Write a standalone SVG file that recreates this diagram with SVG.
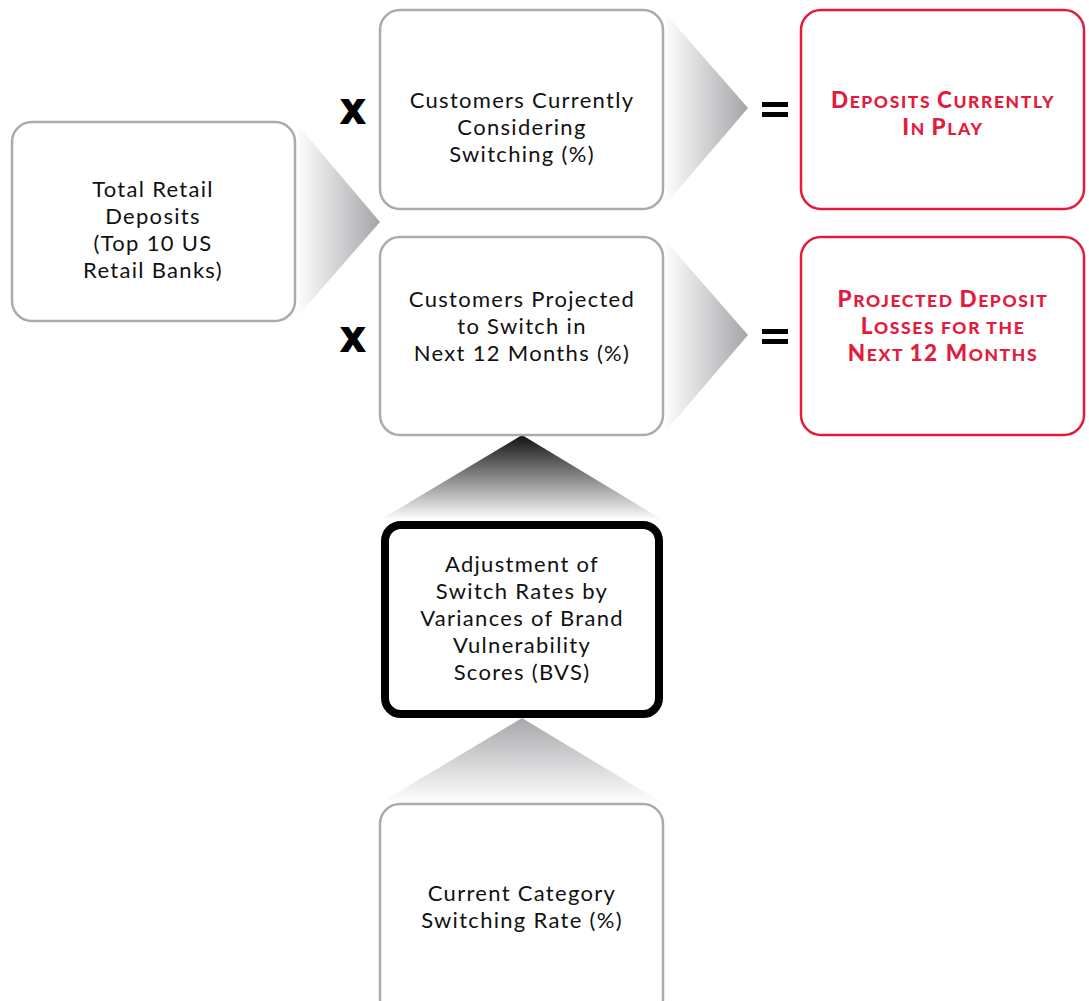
<svg xmlns="http://www.w3.org/2000/svg" width="1089" height="1001" viewBox="0 0 1089 1001">
<defs>
<linearGradient id="gh" x1="0" y1="0" x2="1" y2="0"><stop offset="0" stop-color="#ffffff"/><stop offset="1" stop-color="#a4a5a8"/></linearGradient>
<linearGradient id="gvd" x1="0" y1="0" x2="0" y2="1"><stop offset="0" stop-color="#111111"/><stop offset="1" stop-color="#ffffff"/></linearGradient>
<linearGradient id="gvl" x1="0" y1="0" x2="0" y2="1"><stop offset="0" stop-color="#a6a7aa"/><stop offset="1" stop-color="#ffffff"/></linearGradient>
<style>
.box{fill:#fff;stroke:#ababaf;stroke-width:2.5}
.red{fill:#fff;stroke:#e31b3c;stroke-width:2.5}
.bold{fill:#fff;stroke:#000;stroke-width:8}
.t{font-family:Lato,"Open Sans",sans-serif;font-size:22px;letter-spacing:1.3px;fill:#111;text-anchor:middle}
.r{font-family:Lato,"Open Sans",sans-serif;font-size:17.5px;font-weight:900;letter-spacing:1.6px;fill:#e31b3c;text-anchor:middle}
.c{font-size:22.5px}
.x{font-family:"Liberation Sans",Arial,sans-serif;font-size:42px;font-weight:900;fill:#000;stroke:#000;stroke-width:1.8;text-anchor:middle}
</style>
</defs>
<g id="connectors">
<polygon points="296,123 380,222 296,318" fill="url(#gh)"/>
<polygon points="664,12 748,108 664,206" fill="url(#gh)"/>
<polygon points="664,239 748,335 664,433" fill="url(#gh)"/>
<polygon points="522,435 663,520 380,520" fill="url(#gvd)"/>
<polygon points="522,718 663,803 380,803" fill="url(#gvl)"/>
<text class="x" x="353" y="123">x</text>
<text class="x" x="353" y="351">x</text>
<rect x="762" y="102" width="26" height="5" fill="#000"/>
<rect x="762" y="112" width="26" height="5" fill="#000"/>
<rect x="762" y="329" width="26" height="5" fill="#000"/>
<rect x="762" y="339" width="26" height="5" fill="#000"/>
</g>
<g id="total-deposits">
<rect class="box" x="12" y="122" width="283" height="199" rx="20"/>
<text class="t" x="153" y="197">Total Retail</text>
<text class="t" x="153" y="224">Deposits</text>
<text class="t" x="153" y="251">(Top 10 US</text>
<text class="t" x="153" y="278">Retail Banks)</text>
</g>
<g id="considering">
<rect class="box" x="380" y="10" width="283" height="199" rx="20"/>
<text class="t" x="522" y="108">Customers Currently</text>
<text class="t" x="522" y="135">Considering</text>
<text class="t" x="522" y="162">Switching (%)</text>
</g>
<g id="projected">
<rect class="box" x="380" y="237" width="283" height="198" rx="20"/>
<text class="t" x="522" y="307">Customers Projected</text>
<text class="t" x="522" y="334">to Switch in</text>
<text class="t" x="522" y="361">Next 12 Months (%)</text>
</g>
<g id="in-play">
<rect class="red" x="801" y="10" width="283" height="199" rx="20"/>
<text class="r" x="943" y="108"><tspan class="c">D</tspan>EPOSITS <tspan class="c">C</tspan>URRENTLY</text>
<text class="r" x="943" y="135"><tspan class="c">I</tspan>N <tspan class="c">P</tspan>LAY</text>
</g>
<g id="losses">
<rect class="red" x="801" y="237" width="283" height="198" rx="20"/>
<text class="r" x="943" y="307"><tspan class="c">P</tspan>ROJECTED <tspan class="c">D</tspan>EPOSIT</text>
<text class="r" x="943" y="334"><tspan class="c">L</tspan>OSSES FOR THE</text>
<text class="r" x="943" y="361"><tspan class="c">N</tspan>EXT <tspan class="c">12 M</tspan>ONTHS</text>
</g>
<g id="bvs">
<rect class="bold" x="385" y="525" width="274" height="189" rx="16"/>
<text class="t" x="522" y="572">Adjustment of</text>
<text class="t" x="522" y="599">Switch Rates by</text>
<text class="t" x="522" y="626">Variances of Brand</text>
<text class="t" x="522" y="653">Vulnerability</text>
<text class="t" x="522" y="680">Scores (BVS)</text>
</g>
<g id="category-rate">
<rect class="box" x="380" y="804" width="283" height="215" rx="20"/>
<text class="t" x="522" y="901">Current Category</text>
<text class="t" x="522" y="928">Switching Rate (%)</text>
</g>
</svg>
